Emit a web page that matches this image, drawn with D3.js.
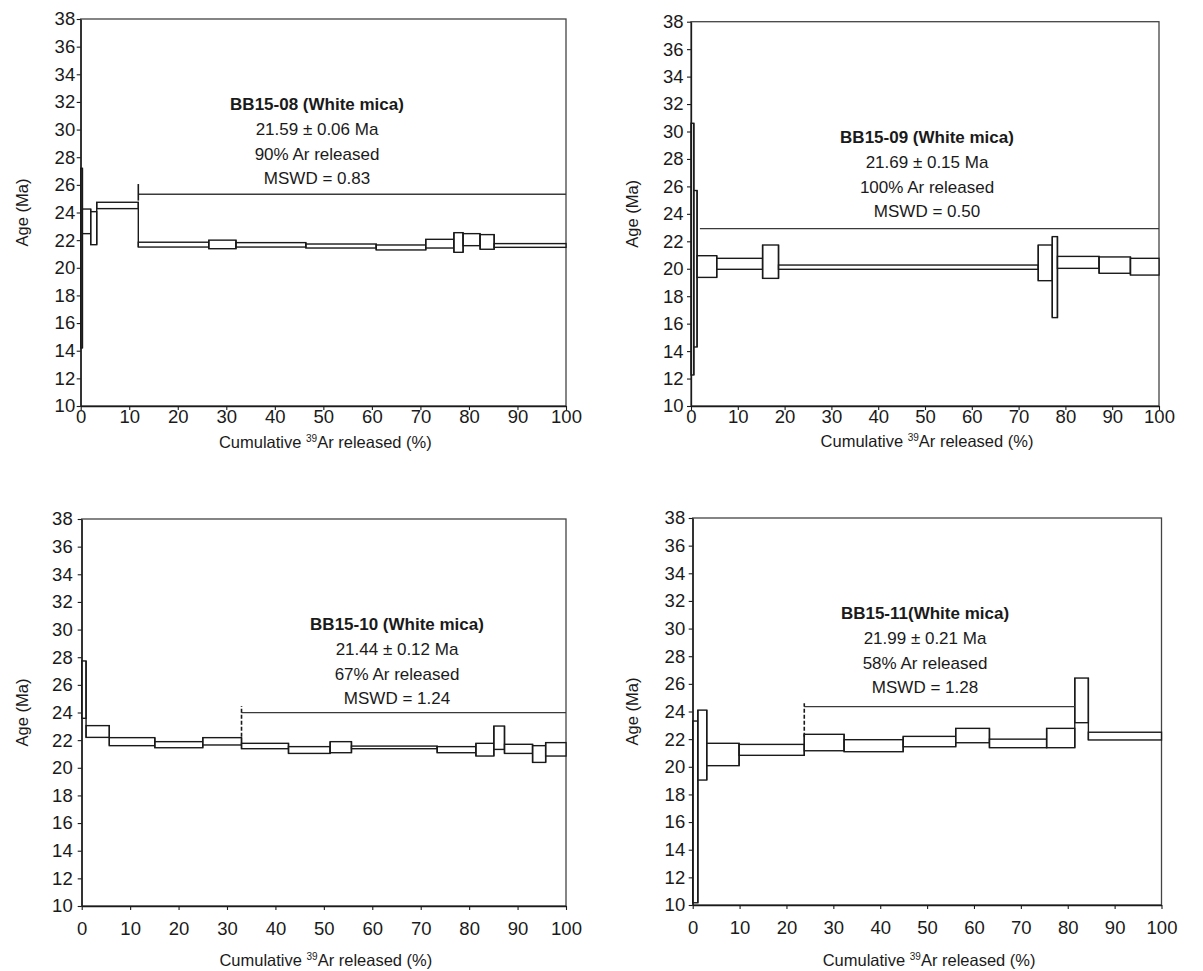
<!DOCTYPE html>
<html>
<head>
<meta charset="utf-8">
<script src="https://cdn.jsdelivr.net/npm/d3@7"></script>
<style>
  html, body { margin: 0; padding: 0; background: #fff; }
  svg { display: block; }
  text { font-family: "Liberation Sans", Arial, sans-serif; fill: #1a1a1a; }
</style>
</head>
<body>
<svg id="chart" width="1203" height="971"></svg>
<script>
// ---------------- DATA ----------------
const yTicks = [10, 12, 14, 16, 18, 20, 22, 24, 26, 28, 30, 32, 34, 36, 38];
const xTicks = [0, 10, 20, 30, 40, 50, 60, 70, 80, 90, 100];

// BB15-08
const s08Edges = [0, 0.35, 2.06, 3.3, 11.87, 26.4, 32.0, 46.4, 60.9, 71.1, 76.9, 78.8, 82.3, 85.2, 100];
const s08Low   = [14.2, 22.47, 21.67, 24.28, 21.5, 21.38, 21.5, 21.43, 21.29, 21.43, 21.12, 21.6, 21.34, 21.48];
const s08High  = [27.2, 24.25, 24.06, 24.74, 21.85, 22.0, 21.82, 21.72, 21.65, 22.06, 22.54, 22.47, 22.4, 21.75];
const s08Plateau = [11.87, 100, 25.32, 24.86, 26.06]; // from, to, age, tick low, tick high
const s08Text = ["BB15-08 (White mica)", "21.59 ± 0.06 Ma", "90% Ar released", "MSWD = 0.83"];

// BB15-09
const s09Edges = [0, 0.6, 1.3, 5.5, 15.3, 18.7, 74.2, 77.2, 78.3, 87.2, 93.9, 100];
const s09Low   = [12.26, 14.3, 19.37, 19.96, 19.3, 19.96, 19.13, 16.44, 20.03, 19.67, 19.54];
const s09High  = [30.6, 25.7, 20.95, 20.76, 21.73, 20.27, 21.73, 22.34, 20.9, 20.86, 20.76];
const s09Plateau = [1.9, 100, 22.92, null, null];
const s09Text = ["BB15-09 (White mica)", "21.69 ± 0.15 Ma", "100% Ar released", "MSWD = 0.50"];

// BB15-10
const s10Edges = [0, 0.9, 5.7, 15.1, 25.0, 33.0, 42.7, 51.3, 55.7, 73.4, 81.4, 85.1, 87.3, 93.1, 95.8, 100];
const s10Low   = [23.58, 22.2, 21.6, 21.45, 21.65, 21.38, 21.04, 21.09, 21.38, 21.09, 20.85, 21.33, 21.04, 20.39, 20.85];
const s10High  = [27.73, 23.05, 22.18, 21.89, 22.18, 21.77, 21.53, 21.89, 21.57, 21.53, 21.77, 23.02, 21.7, 21.6, 21.82];
const s10Plateau = [33.0, 100, 23.99, 22.25, 24.47];
const s10Text = ["BB15-10 (White mica)", "21.44 ± 0.12 Ma", "67% Ar released", "MSWD = 1.24"];

// BB15-11
const s11Edges = [0, 1.1, 3.0, 9.9, 23.8, 32.3, 44.9, 56.1, 63.3, 75.5, 81.5, 84.4, 100];
const s11Low   = [10.16, 19.04, 20.08, 20.83, 21.16, 21.09, 21.45, 21.74, 21.38, 21.38, 23.19, 21.94];
const s11High  = [23.31, 24.1, 21.7, 21.62, 22.35, 21.96, 22.2, 22.78, 22.0, 22.78, 26.42, 22.5];
const s11Plateau = [23.8, 81.5, 24.35, 22.18, 24.59];
const s11Text = ["BB15-11(White mica)", "21.99 ± 0.21 Ma", "58% Ar released", "MSWD = 1.28"];

// ---------------- LAYOUT ----------------
const panels = [
  { edges: s08Edges, low: s08Low, high: s08High, plateau: s08Plateau, text: s08Text, dashed: false,
    x0: 80.7, x1: 566, y0: 19, y1: 406, tx: 317, ty: 104, ylx: 22, xPad: 0, yPad: 1.5, titleOff: 42 },
  { edges: s09Edges, low: s09Low, high: s09High, plateau: s09Plateau, text: s09Text, dashed: false,
    x0: 691, x1: 1159, y0: 21.7, y1: 406, tx: 927, ty: 137, ylx: 632, xPad: 0, yPad: 3.5, titleOff: 41 },
  { edges: s10Edges, low: s10Low, high: s10High, plateau: s10Plateau, text: s10Text, dashed: true,
    x0: 81.7, x1: 566, y0: 519, y1: 906, tx: 397, ty: 624, ylx: 22, xPad: 12, yPad: 5, titleOff: 60 },
  { edges: s11Edges, low: s11Low, high: s11High, plateau: s11Plateau, text: s11Text, dashed: true,
    x0: 692.7, x1: 1161.5, y0: 518, y1: 905, tx: 925, ty: 613, ylx: 632, xPad: 12, yPad: 3.5, titleOff: 61 }
];

const svg = d3.select("#chart");
svg.append("rect").attr("width", 1203).attr("height", 971).attr("fill", "#fff");

panels.forEach(p => {
  const x = d3.scaleLinear().domain([0, 100]).range([p.x0, p.x1]);
  const y = d3.scaleLinear().domain([10, 38]).range([p.y1, p.y0]);
  const g = svg.append("g");

  // frame
  g.append("rect")
    .attr("x", x(0)).attr("y", y(38))
    .attr("width", x(100) - x(0)).attr("height", y(10) - y(38))
    .attr("fill", "none").attr("stroke", "#444").attr("stroke-width", 1.3);

  // steps
  const steps = p.low.map((lo, i) => ({ a: p.edges[i], b: p.edges[i + 1], lo, hi: p.high[i] }));
  g.append("g").selectAll("rect").data(steps).join("rect")
    .attr("x", d => x(d.a))
    .attr("y", d => y(d.hi))
    .attr("width", d => x(d.b) - x(d.a))
    .attr("height", d => y(d.lo) - y(d.hi))
    .attr("fill", "#fff")
    .attr("stroke", "#1a1a1a")
    .attr("stroke-width", 1.4);

  // connectors between adjacent steps
  const joins = steps.slice(0, -1).map((d, i) => ({
    e: d.b,
    lo: Math.min(d.lo, steps[i + 1].lo),
    hi: Math.max(d.hi, steps[i + 1].hi)
  }));
  g.append("g").selectAll("line").data(joins).join("line")
    .attr("x1", d => x(d.e)).attr("x2", d => x(d.e))
    .attr("y1", d => y(d.lo)).attr("y2", d => y(d.hi))
    .attr("stroke", "#1a1a1a").attr("stroke-width", 1.4);

  // plateau line
  const [pf, pt, pa, tl, th] = p.plateau;
  g.append("line")
    .attr("x1", x(pf)).attr("x2", x(pt))
    .attr("y1", y(pa)).attr("y2", y(pa))
    .attr("stroke", "#3a3a3a").attr("stroke-width", 1.4);
  if (tl !== null) {
    g.append("line")
      .attr("x1", x(pf)).attr("x2", x(pf))
      .attr("y1", y(tl)).attr("y2", y(th))
      .attr("stroke", "#1a1a1a").attr("stroke-width", 1.6)
      .attr("stroke-dasharray", p.dashed ? "4,2" : null);
  }

  // axes
  const ax = g.append("g").attr("transform", `translate(0,${y(10)})`)
    .call(d3.axisBottom(x).tickValues(xTicks).tickSize(4).tickSizeOuter(0).tickPadding(p.xPad));
  const ay = g.append("g").attr("transform", `translate(${x(0)},0)`)
    .call(d3.axisLeft(y).tickValues(yTicks).tickSize(4).tickSizeOuter(0).tickPadding(p.yPad));
  [ax, ay].forEach(a => {
    a.selectAll("path.domain").attr("stroke", "#1a1a1a").attr("stroke-width", 1.3);
    a.selectAll(".tick line").attr("stroke", "#1a1a1a").attr("stroke-width", 1.1);
    a.selectAll(".tick text").attr("font-size", 18.5).attr("fill", "#1a1a1a")
      .style("font-family", '"Liberation Sans", Arial, sans-serif');
  });

  // axis titles
  const xt = g.append("text")
    .attr("x", (x(0) + x(100)) / 2 + 2)
    .attr("y", y(10) + p.titleOff)
    .attr("text-anchor", "middle")
    .attr("font-size", 16.5);
  xt.append("tspan").text("Cumulative ");
  xt.append("tspan").attr("font-size", 10).attr("dy", -6).text("39");
  xt.append("tspan").attr("dy", 6).text("Ar released (%)");

  g.append("text")
    .attr("transform", `translate(${p.ylx},${(y(10) + y(38)) / 2}) rotate(-90)`)
    .attr("text-anchor", "middle")
    .attr("dy", "0.35em")
    .attr("font-size", 16.5)
    .text("Age (Ma)");

  // annotation
  p.text.forEach((t, i) => {
    g.append("text")
      .attr("x", p.tx)
      .attr("y", p.ty + i * 24.8)
      .attr("dy", "0.35em")
      .attr("text-anchor", "middle")
      .attr("font-size", 17)
      .attr("font-weight", i === 0 ? "bold" : "normal")
      .text(t);
  });
});
</script>
</body>
</html>
